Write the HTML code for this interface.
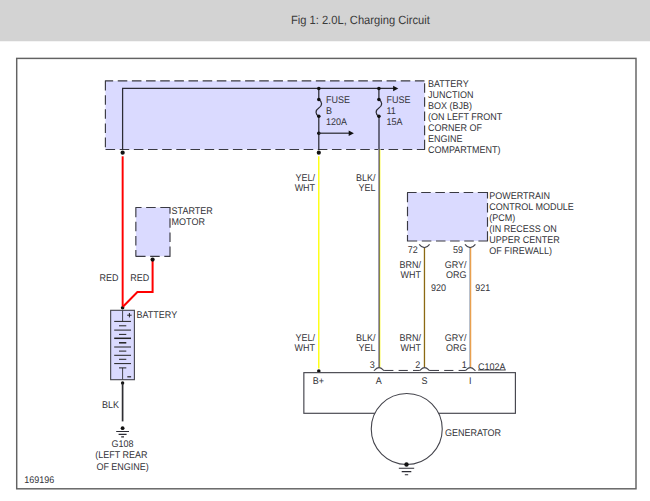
<!DOCTYPE html>
<html><head><meta charset="utf-8"><title>Fig 1: 2.0L, Charging Circuit</title>
<style>
html,body{margin:0;padding:0;background:#fff;}
body{width:650px;height:501px;overflow:hidden;font-family:"Liberation Sans",sans-serif;}
svg{display:block;font-family:"Liberation Sans",sans-serif;}
</style></head><body>
<svg width="650" height="501" viewBox="0 0 650 501">
<rect x="0" y="0" width="650" height="41.25" fill="#d3d3d3"/>
<text x="290.9" y="24" font-size="12" text-rendering="geometricPrecision" textLength="139" lengthAdjust="spacingAndGlyphs" fill="#3a3a3a">Fig 1: 2.0L, Charging Circuit</text>
<rect x="16.7" y="58.4" width="619.3" height="430.4" fill="#fff" stroke="#626262" stroke-width="1.45"/>
<rect x="105.4" y="80.85" width="319.20000000000005" height="68.6" fill="#dadaff"/>
<path d="M424.45000000000005,80.85H104.9M105.4,81.0V149.95M105.55000000000001,149.45H425.1M424.6,149.29999999999998V80.35" fill="none" stroke="#3a3a42" stroke-width="1.15" stroke-dasharray="9.55 4.6"/>
<rect x="407.5" y="192.5" width="80.0" height="48.5" fill="#dadaff"/>
<path d="M487.35,192.5H407.0M407.5,192.65V241.5M407.65,241.0H488.0M487.5,240.85V192.0" fill="none" stroke="#3a3a42" stroke-width="1.15" stroke-dasharray="9.55 4.6"/>
<rect x="135.85" y="207.5" width="34.150000000000006" height="48.80000000000001" fill="#dadaff"/>
<path d="M169.85,207.5H135.35M135.85,207.65V256.8M136.0,256.3H170.5M170.0,256.15000000000003V207.0" fill="none" stroke="#3a3a42" stroke-width="1.15" stroke-dasharray="9.55 4.6"/>
<path d="M122.6,150 V88.45 H394" fill="none" stroke="#2c2c34" stroke-width="1.25"/>
<path d="M398.3,88.45 l-5.2,-2.7 v5.4z" fill="#111"/>
<rect x="378" y="117" width="2" height="32.6" fill="#6a6a82"/>
<path d="M318.8,88.4 V99.5 c3.7,2.2 3.7,6 0,8.4 c-3.7,2.4 -3.7,6.2 0,8.4 V150" fill="none" stroke="#2c2c34" stroke-width="1.25"/>
<circle cx="318.8" cy="88.45" r="1.8" fill="#111"/>
<circle cx="318.8" cy="99.5" r="1.8" fill="#111"/>
<circle cx="318.8" cy="116.3" r="1.8" fill="#111"/>
<path d="M378.9,88.4 V99.5 c3.7,2.2 3.7,6 0,8.4 c-3.7,2.4 -3.7,6.2 0,8.4 V118" fill="none" stroke="#2c2c34" stroke-width="1.25"/>
<circle cx="378.9" cy="88.45" r="1.8" fill="#111"/>
<circle cx="378.9" cy="99.5" r="1.8" fill="#111"/>
<circle cx="378.9" cy="116.3" r="1.8" fill="#111"/>
<circle cx="318.8" cy="133.2" r="1.8" fill="#111"/>
<path d="M318.8,133.2 H349.5" fill="none" stroke="#2c2c34" stroke-width="1.25"/>
<path d="M353.9,133.2 l-5.2,-2.8 v5.6z" fill="#111"/>
<circle cx="122.65" cy="152.7" r="2.1" fill="#111"/>
<circle cx="318.8" cy="152.7" r="2.1" fill="#111"/>
<circle cx="122.6" cy="307.8" r="1.8" fill="#111"/>
<path d="M122.65,156.3 V306" fill="none" stroke="#ff0000" stroke-width="1.95"/>
<path d="M152.6,261 V292.0 H137.4 L122.9,306.8" fill="none" stroke="#ff0000" stroke-width="2.0" stroke-linejoin="miter"/>
<circle cx="152.6" cy="259.6" r="2.1" fill="#111"/>
<path d="M318.75,156.3 V368.5" fill="none" stroke="#ffff1a" stroke-width="1.5"/>
<circle cx="318.8" cy="371.0" r="1.8" fill="#111"/>
<rect x="378" y="149.5" width="1" height="218" fill="#a09ab0"/>
<rect x="379" y="149.5" width="1" height="218" fill="#87873f"/>
<rect x="380" y="149.5" width="1" height="218" fill="#ffffa8"/>
<rect x="423" y="247.5" width="1" height="120" fill="#ebe4cf"/>
<rect x="424" y="247.5" width="1" height="120" fill="#8b6914"/>
<rect x="425" y="247.5" width="1" height="120" fill="#f2eee2"/>
<rect x="469" y="247.5" width="1" height="120" fill="#b8c0cc"/>
<rect x="470" y="247.5" width="1" height="120" fill="#e8a050"/>
<rect x="471" y="247.5" width="1" height="120" fill="#fde8d0"/>
<path d="M419.2,244.3 Q424.4,250.9 429.59999999999997,244.3" fill="none" stroke="#44444c" stroke-width="1.2"/>
<path d="M465.0,244.3 Q470.2,250.9 475.4,244.3" fill="none" stroke="#44444c" stroke-width="1.2"/>
<rect x="303.85" y="372.65" width="211.55" height="40.65" fill="#fff" stroke="#44444c" stroke-width="1.15"/>
<circle cx="406.75" cy="428.95" r="35.5" fill="#fff" stroke="#44444c" stroke-width="1.1"/>
<circle cx="406.5" cy="464.5" r="2.2" fill="#111"/>
<path d="M398.82,468.2h15.36M401.70,471.62h9.60M404.82,474.68h3.36" fill="none" stroke="#2c2c34" stroke-width="1.1"/>
<path d="M373.79999999999995,370.45 c1.9,0 1.5,-2.85 5.2,-2.85 c3.7,0 3.3,2.85 5.3,2.85" fill="none" stroke="#44444c" stroke-width="1.1"/>
<path d="M419.4,370.45 c1.9,0 1.5,-2.85 5.2,-2.85 c3.7,0 3.3,2.85 5.3,2.85" fill="none" stroke="#44444c" stroke-width="1.1"/>
<path d="M465.09999999999997,370.45 c1.9,0 1.5,-2.85 5.2,-2.85 c3.7,0 3.3,2.85 5.3,2.85" fill="none" stroke="#44444c" stroke-width="1.1"/>
<path d="M384.2,370.45 H419.5" fill="none" stroke="#3a3a42" stroke-width="1" stroke-dasharray="9.2 5.2"/>
<path d="M429.8,370.45 H465" fill="none" stroke="#3a3a42" stroke-width="1" stroke-dasharray="9.2 5.2"/>
<rect x="110.65" y="310.3" width="23.75" height="69.4" fill="#dadaff" stroke="#44444c" stroke-width="1.1"/>
<circle cx="122.6" cy="383.0" r="1.7" fill="#111"/>
<path d="M122.6,310.3 V321.4 M122.6,367.9 V379.7" fill="none" stroke="#44444c" stroke-width="1"/>
<path d="M114.2,321.4H131" stroke="#222" stroke-width="1"/>
<path d="M119,325.8H126.3" stroke="#222" stroke-width="1"/>
<path d="M114.2,330.1H131" stroke="#222" stroke-width="1"/>
<path d="M119,334.4H126.3" stroke="#222" stroke-width="1"/>
<path d="M114.2,338.3H131" stroke="#222" stroke-width="1.5"/>
<path d="M119,342.8H126.3" stroke="#222" stroke-width="1.5"/>
<path d="M114.2,347.0H131" stroke="#222" stroke-width="1"/>
<path d="M119,351.1H126.3" stroke="#222" stroke-width="1"/>
<path d="M114.2,355.3H131" stroke="#222" stroke-width="1"/>
<path d="M119,359.3H126.3" stroke="#222" stroke-width="1"/>
<path d="M114.2,363.6H131" stroke="#222" stroke-width="1"/>
<path d="M119,367.9H126.3" stroke="#222" stroke-width="1"/>
<path d="M127.2,315.2h4.4M129.4,313v4.4" stroke="#222" stroke-width="1"/>
<path d="M127.3,376.8h3.8" stroke="#222" stroke-width="1.2"/>
<path d="M122.6,383.5 V421.4" stroke="#2e2e32" stroke-width="1.7"/>
<circle cx="122.6" cy="428.2" r="1.9" fill="#111"/>
<path d="M116.20,431.5h12.80M118.60,434.35h8.00M121.20,436.90h2.80" fill="none" stroke="#2c2c34" stroke-width="1.1"/>
<g font-size="9.7" fill="#333338" text-rendering="geometricPrecision">
<text transform="translate(428,86.8) scale(0.9278,1)" text-anchor="start" >BATTERY</text>
<text transform="translate(428,97.78) scale(0.9278,1)" text-anchor="start" >JUNCTION</text>
<text transform="translate(428,108.75999999999999) scale(0.9278,1)" text-anchor="start" >BOX (BJB)</text>
<text transform="translate(428,119.74) scale(0.9278,1)" text-anchor="start" >(ON LEFT FRONT</text>
<text transform="translate(428,130.72) scale(0.9278,1)" text-anchor="start" >CORNER OF</text>
<text transform="translate(428,141.7) scale(0.9278,1)" text-anchor="start" >ENGINE</text>
<text transform="translate(428,152.68) scale(0.9278,1)" text-anchor="start" >COMPARTMENT)</text>
<text transform="translate(326,103.2) scale(0.9278,1)" text-anchor="start" >FUSE</text>
<text transform="translate(326,113.95) scale(0.9278,1)" text-anchor="start" >B</text>
<text transform="translate(326,124.7) scale(0.9278,1)" text-anchor="start" >120A</text>
<text transform="translate(386.5,103.2) scale(0.9278,1)" text-anchor="start" >FUSE</text>
<text transform="translate(386.5,113.95) scale(0.9278,1)" text-anchor="start" >11</text>
<text transform="translate(386.5,124.7) scale(0.9278,1)" text-anchor="start" >15A</text>
<text transform="translate(315.1,180.5) scale(0.9278,1)" text-anchor="end" >YEL/</text>
<text transform="translate(315.1,190.65) scale(0.9278,1)" text-anchor="end" >WHT</text>
<text transform="translate(375.5,180.5) scale(0.9278,1)" text-anchor="end" >BLK/</text>
<text transform="translate(375.5,190.65) scale(0.9278,1)" text-anchor="end" >YEL</text>
<text transform="translate(315.0,340.7) scale(0.9278,1)" text-anchor="end" >YEL/</text>
<text transform="translate(315.0,350.9) scale(0.9278,1)" text-anchor="end" >WHT</text>
<text transform="translate(375.5,340.7) scale(0.9278,1)" text-anchor="end" >BLK/</text>
<text transform="translate(375.5,350.9) scale(0.9278,1)" text-anchor="end" >YEL</text>
<text transform="translate(421,340.7) scale(0.9278,1)" text-anchor="end" >BRN/</text>
<text transform="translate(421,350.9) scale(0.9278,1)" text-anchor="end" >WHT</text>
<text transform="translate(466.5,340.7) scale(0.9278,1)" text-anchor="end" >GRY/</text>
<text transform="translate(466.5,350.9) scale(0.9278,1)" text-anchor="end" >ORG</text>
<text transform="translate(421,267.5) scale(0.9278,1)" text-anchor="end" >BRN/</text>
<text transform="translate(421,277.6) scale(0.9278,1)" text-anchor="end" >WHT</text>
<text transform="translate(466.5,267.5) scale(0.9278,1)" text-anchor="end" >GRY/</text>
<text transform="translate(466.5,277.6) scale(0.9278,1)" text-anchor="end" >ORG</text>
<text transform="translate(489.3,199.0) scale(0.9278,1)" text-anchor="start" >POWERTRAIN</text>
<text transform="translate(489.3,209.93) scale(0.9278,1)" text-anchor="start" >CONTROL MODULE</text>
<text transform="translate(489.3,220.86) scale(0.9278,1)" text-anchor="start" >(PCM)</text>
<text transform="translate(489.3,231.79) scale(0.9278,1)" text-anchor="start" >(IN RECESS ON</text>
<text transform="translate(489.3,242.72) scale(0.9278,1)" text-anchor="start" >UPPER CENTER</text>
<text transform="translate(489.3,253.65) scale(0.9278,1)" text-anchor="start" >OF FIREWALL)</text>
<text transform="translate(407.8,253.3) scale(0.9278,1)" text-anchor="start" >72</text>
<text transform="translate(453,253.3) scale(0.9278,1)" text-anchor="start" >59</text>
<text transform="translate(431,291) scale(0.9278,1)" text-anchor="start" >920</text>
<text transform="translate(475.2,291) scale(0.9278,1)" text-anchor="start" >921</text>
<text transform="translate(374.8,367.8) scale(0.9278,1)" text-anchor="end" >3</text>
<text transform="translate(420.3,367.8) scale(0.9278,1)" text-anchor="end" >2</text>
<text transform="translate(466.8,367.8) scale(0.9278,1)" text-anchor="end" >1</text>
<text transform="translate(478.1,370.1) scale(0.9278,1)" text-anchor="start" >C102A</text>
<path d="M478.1,370.0H505.7" stroke="#333338" stroke-width="0.9"/>
<text transform="translate(312.8,384.3) scale(0.9278,1)" text-anchor="start" >B+</text>
<text transform="translate(378.7,384.3) scale(0.9278,1)" text-anchor="middle" >A</text>
<text transform="translate(424.5,384.3) scale(0.9278,1)" text-anchor="middle" >S</text>
<text transform="translate(470.2,384.3) scale(0.9278,1)" text-anchor="middle" >I</text>
<text transform="translate(445,435.8) scale(0.9278,1)" text-anchor="start" >GENERATOR</text>
<text transform="translate(171.6,214.2) scale(0.9278,1)" text-anchor="start" >STARTER</text>
<text transform="translate(171.6,225.1) scale(0.9278,1)" text-anchor="start" >MOTOR</text>
<text transform="translate(99.6,281.2) scale(0.9278,1)" text-anchor="start" >RED</text>
<text transform="translate(130.2,281.2) scale(0.9278,1)" text-anchor="start" >RED</text>
<text transform="translate(136.5,317.8) scale(0.9278,1)" text-anchor="start" >BATTERY</text>
<text transform="translate(102.0,407.8) scale(0.9278,1)" text-anchor="start" >BLK</text>
<text transform="translate(122.6,447.2) scale(0.9278,1)" text-anchor="middle" >G108</text>
<text transform="translate(121.4,458.3) scale(0.9278,1)" text-anchor="middle" >(LEFT REAR</text>
<text transform="translate(122.6,469.6) scale(0.9278,1)" text-anchor="middle" >OF ENGINE)</text>
<text transform="translate(24.2,482.8) scale(0.9278,1)" text-anchor="start" >169196</text>
</g>
</svg>
</body></html>
